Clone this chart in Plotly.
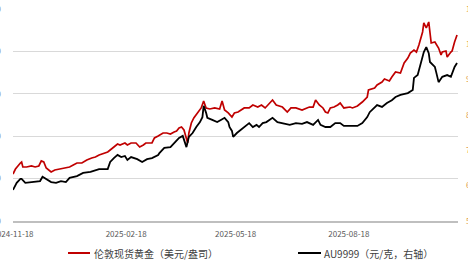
import plotly.graph_objects as go

# London spot gold (USD/oz), left axis
gold_dates = ["2024-11-18","2024-11-20","2024-11-24","2024-11-25","2024-11-26","2024-11-29","2024-12-03","2024-12-06","2024-12-09","2024-12-11",
"2024-12-13","2024-12-15","2024-12-19","2024-12-22","2024-12-26","2024-12-30","2025-01-03","2025-01-06","2025-01-09","2025-01-13",
"2025-01-17","2025-01-21","2025-01-24","2025-01-27","2025-01-31","2025-02-03","2025-02-05","2025-02-08","2025-02-11","2025-02-13",
"2025-02-17","2025-02-19","2025-02-22","2025-02-26","2025-03-01","2025-03-04","2025-03-06","2025-03-11","2025-03-13","2025-03-16",
"2025-03-20","2025-03-23","2025-03-26","2025-03-29","2025-03-31","2025-04-02","2025-04-04","2025-04-06","2025-04-07","2025-04-09",
"2025-04-10","2025-04-12","2025-04-14","2025-04-17","2025-04-19","2025-04-20","2025-04-22","2025-04-24","2025-04-27","2025-05-01",
"2025-05-05","2025-05-07","2025-05-09","2025-05-12","2025-05-15","2025-05-17","2025-05-20","2025-05-23","2025-05-25","2025-05-29",
"2025-06-01","2025-06-05","2025-06-08","2025-06-11","2025-06-13","2025-06-15","2025-06-17","2025-06-20","2025-06-23","2025-06-25",
"2025-06-29","2025-07-02","2025-07-06","2025-07-09","2025-07-11","2025-07-15","2025-07-17","2025-07-20","2025-07-22","2025-07-25",
"2025-07-28","2025-07-30","2025-08-01","2025-08-03","2025-08-06","2025-08-09","2025-08-11","2025-08-14","2025-08-19","2025-08-21",
"2025-08-25","2025-08-29","2025-09-02","2025-09-03","2025-09-08","2025-09-10","2025-09-14","2025-09-16","2025-09-20","2025-09-22",
"2025-09-25","2025-09-29","2025-10-02","2025-10-05","2025-10-07","2025-10-10","2025-10-12","2025-10-14","2025-10-17","2025-10-18",
"2025-10-20","2025-10-22","2025-10-23","2025-10-24","2025-10-27","2025-10-30","2025-11-01","2025-11-02","2025-11-05","2025-11-06",
"2025-11-09","2025-11-10","2025-11-12","2025-11-13","2025-11-14"]
gold_vals = [2554,2613,2684,2696,2637,2637,2649,2637,2649,2708,
2696,2625,2578,2601,2613,2625,2637,2660,2684,2684,
2719,2743,2755,2778,2802,2814,2837,2873,2908,2896,
2920,2896,2920,2920,2873,2896,2920,2920,2979,3002,
3038,3038,3026,3049,3061,3097,3108,3073,3014,2920,
3038,3156,3215,3274,3309,3333,3415,3333,3321,3333,
3321,3415,3309,3274,3226,3274,3285,3309,3333,3333,
3368,3344,3368,3333,3368,3403,3427,3368,3356,3344,
3285,3333,3333,3321,3309,3333,3344,3344,3427,3368,
3333,3285,3274,3333,3344,3368,3391,3333,3344,3333,
3356,3403,3462,3545,3568,3604,3639,3674,3651,3698,
3757,3745,3863,3922,3981,4016,3993,4075,4229,4335,
4276,4347,4217,4099,4111,4040,3957,3993,4005,3934,
3993,4005,4111,4170,4193]

# AU9999 (CNY/g), right axis
au_dates = ["2024-11-18","2024-11-21","2024-11-24","2024-11-25","2024-11-28","2024-12-02","2024-12-06","2024-12-10","2024-12-12","2024-12-15",
"2024-12-19","2024-12-23","2024-12-27","2024-12-31","2025-01-03","2025-01-09","2025-01-14","2025-01-20","2025-01-25","2025-01-27",
"2025-02-03","2025-02-05","2025-02-08","2025-02-11","2025-02-14","2025-02-17","2025-02-19","2025-02-22","2025-02-27","2025-03-03",
"2025-03-07","2025-03-11","2025-03-16","2025-03-17","2025-03-21","2025-03-26","2025-03-30","2025-04-02","2025-04-05","2025-04-06",
"2025-04-08","2025-04-10","2025-04-13","2025-04-16","2025-04-19","2025-04-21","2025-04-22","2025-04-24","2025-04-25","2025-04-29",
"2025-05-03","2025-05-06","2025-05-09","2025-05-12","2025-05-13","2025-05-15","2025-05-16","2025-05-19","2025-05-22","2025-05-24",
"2025-05-27","2025-05-29","2025-06-01","2025-06-04","2025-06-06","2025-06-09","2025-06-12","2025-06-15","2025-06-17","2025-06-21",
"2025-06-25","2025-07-01","2025-07-06","2025-07-11","2025-07-15","2025-07-20","2025-07-24","2025-07-26","2025-07-30","2025-08-03",
"2025-08-07","2025-08-11","2025-08-14","2025-08-19","2025-08-25","2025-08-29","2025-09-02","2025-09-04","2025-09-08","2025-09-10",
"2025-09-14","2025-09-18","2025-09-22","2025-09-25","2025-09-29","2025-10-05","2025-10-09","2025-10-10","2025-10-13","2025-10-15",
"2025-10-18","2025-10-20","2025-10-22","2025-10-23","2025-10-27","2025-10-28","2025-10-30","2025-11-02","2025-11-06","2025-11-09",
"2025-11-12","2025-11-14"]
au_vals = [588,608,619,619,608,610,610,613,625,619,
610,608,613,610,622,627,636,639,644,647,
647,667,678,687,681,684,673,681,675,667,
675,678,687,692,707,709,724,735,741,729,
709,738,749,766,780,794,826,806,792,786,
780,786,792,780,766,755,738,749,758,763,
772,777,766,772,766,777,780,786,792,780,
777,772,777,775,780,772,786,772,766,766,
777,777,769,769,769,777,794,808,820,828,
823,834,842,851,857,862,871,905,913,941,
978,992,975,950,936,922,893,908,913,908,
936,947]

x_tickvals = ["2024-11-18", "2025-02-18", "2025-05-18", "2025-08-18"]
left_ticks = [2000, 2500, 3000, 3500, 4000, 4500]
right_ticks = [500, 600, 700, 800, 900, 1000, 1100]
name_gold = "伦敦现货黄金（美元/盎司）"
name_au = "AU9999（元/克，右轴）"

RED = "#c00000"
BLACK = "#000000"
FONT = "Noto Sans CJK SC"

fig = go.Figure()
fig.add_trace(go.Scatter(x=gold_dates, y=gold_vals, mode="lines", name=name_gold,
                         line=dict(color=RED, width=1.7), yaxis="y"))
fig.add_trace(go.Scatter(x=au_dates, y=au_vals, mode="lines", name=name_au,
                         line=dict(color=BLACK, width=1.8), yaxis="y2"))

fig.update_layout(
    width=468, height=264,
    margin=dict(l=13, r=10, t=9, b=43, autoexpand=False),
    paper_bgcolor="white", plot_bgcolor="white",
    showlegend=False,
    font=dict(family=FONT, size=8, color="#595959"),
    xaxis=dict(type="date", range=["2024-11-18", "2025-11-14 19:00"],
               tickvals=x_tickvals, ticktext=x_tickvals,
               showgrid=False, showline=True, linecolor="#bfbfbf", linewidth=1.5,
               ticks="", zeroline=False, automargin=False,
               ticklabeloverflow="allow", ticklabelstandoff=5,
               tickfont=dict(family=FONT, size=8, color="#595959")),
    yaxis=dict(range=[2000, 4500], tickvals=left_ticks,
               showgrid=True, gridcolor="#d9d9d9", gridwidth=1,
               zeroline=False, showline=False, ticks="", automargin=False,
               ticklabelstandoff=11, ticklabeloverflow="allow",
               tickfont=dict(family=FONT, size=8, color="#8496b0")),
    yaxis2=dict(range=[500, 1100], tickvals=right_ticks, overlaying="y", side="right",
                showgrid=False, zeroline=False, showline=False, ticks="", automargin=False,
                ticklabelstandoff=7, ticklabeloverflow="allow",
                tickfont=dict(family=FONT, size=8, color="#e0a050")),
)

# manual legend below plot
leg_y = -0.151
fig.add_shape(type="line", xref="paper", yref="paper", x0=0.1236, x1=0.1730, y0=leg_y, y1=leg_y,
              line=dict(color=RED, width=2))
fig.add_shape(type="line", xref="paper", yref="paper", x0=0.6404, x1=0.6921, y0=leg_y, y1=leg_y,
              line=dict(color=BLACK, width=2))
fig.add_annotation(xref="paper", yref="paper", x=0.1775, y=leg_y, text=name_gold, showarrow=False,
                   xanchor="left", yanchor="middle", font=dict(family=FONT, size=10, color="#404040"))
fig.add_annotation(xref="paper", yref="paper", x=0.6944, y=leg_y, text=name_au, showarrow=False,
                   xanchor="left", yanchor="middle", font=dict(family=FONT, size=10, color="#404040"))

fig.write_html("out.html")
